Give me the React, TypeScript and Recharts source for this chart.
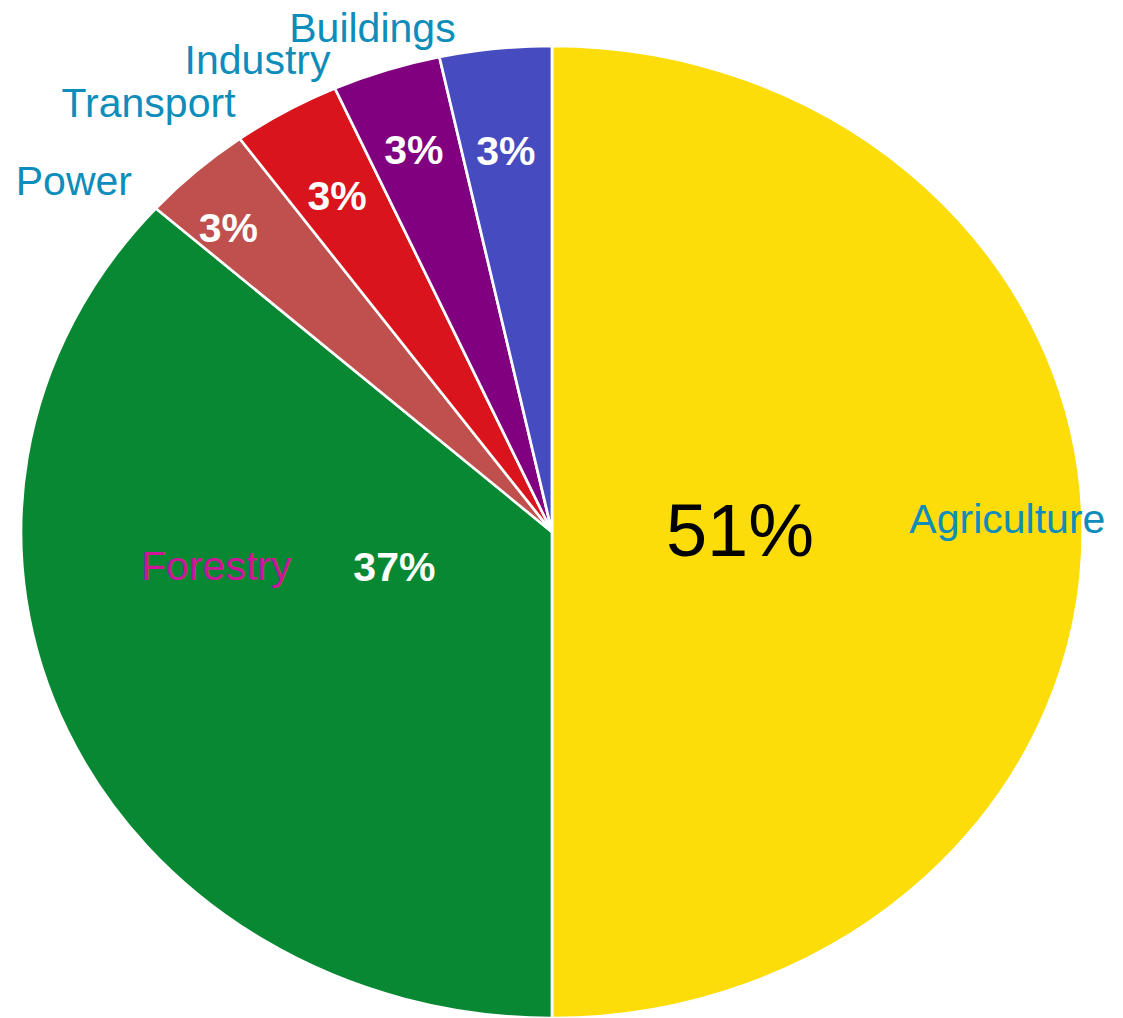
import React from "react";
import { PieChart, Pie, Cell } from "recharts";

// ---- Data ----
const categories = ["Agriculture", "Forestry", "Power", "Transport", "Industry", "Buildings"];
const shares = [50.0, 36.6, 3.4, 3.3, 3.3, 3.4];
const shareLabels = ["51%", "37%", "3%", "3%", "3%", "3%"];

// ---- Styles / layout ----
const sliceColors = ["#FCDD0A", "#088833", "#C0504D", "#DA141C", "#800080", "#474BC0"];
const nameColors = ["#0E8DBA", "#CC1599", "#0E8DBA", "#0E8DBA", "#0E8DBA", "#0E8DBA"];
const valueColors = ["#000000", "#FFFFFF", "#FFFFFF", "#FFFFFF", "#FFFFFF", "#FFFFFF"];
const valueSizes = [74, 41, 41, 41, 41, 41];
const valueWeights = ["normal", "bold", "bold", "bold", "bold", "bold"];
// label placement relative to slice mid-angle (deg shift, radius fraction)
const nameShift = [1.85, -17.9, 9.1, 10.6, 11.5, 11.9];
const nameRadius = [0.858, 0.636, 1.155, 1.166, 1.12, 1.093];
const valueShift = [0.67, -10.8, 2.1, 0.2, 0.1, 0.2];
const valueRadius = [0.354, 0.305, 0.874, 0.803, 0.829, 0.79];

const SX = 1.0926; // horizontal stretch (the pie is an ellipse)
const CHART_W = 1028;
const CHART_H = 1018;
const RAD = Math.PI / 180;
const FONT = "'Liberation Sans', Arial, sans-serif";

const data = categories.map((name, i) => ({ name, value: shares[i] }));

const renderLabel = (props: any) => {
  const { cx, cy, midAngle, outerRadius, index } = props;
  const pos = (shift: number, rf: number) => {
    const a = (midAngle + shift) * RAD;
    return {
      x: cx + outerRadius * rf * Math.cos(-a),
      y: cy + outerRadius * rf * Math.sin(-a),
    };
  };
  const n = pos(nameShift[index], nameRadius[index]);
  const v = pos(valueShift[index], valueRadius[index]);
  return (
    <g key={`lbl-${index}`}>
      <text
        transform={`translate(${n.x} ${n.y}) scale(${1 / SX} 1)`}
        x={0}
        y={0}
        dy="0.358em"
        textAnchor="middle"
        fill={nameColors[index]}
        fontFamily={FONT}
        fontSize={41}
      >
        {categories[index]}
      </text>
      <text
        transform={`translate(${v.x} ${v.y}) scale(${1 / SX} 1)`}
        x={0}
        y={0}
        dy="0.358em"
        textAnchor="middle"
        fill={valueColors[index]}
        fontFamily={FONT}
        fontSize={valueSizes[index]}
        fontWeight={valueWeights[index]}
      >
        {shareLabels[index]}
      </text>
    </g>
  );
};

export default function App() {
  return (
    <div
      style={{
        position: "absolute",
        left: 0,
        top: 0,
        width: 1123,
        height: 1018,
        overflow: "hidden",
        background: "#FFFFFF",
      }}
    >
      <div
        style={{
          width: CHART_W,
          height: CHART_H,
          transform: `scaleX(${SX})`,
          transformOrigin: "0 0",
        }}
      >
        <PieChart width={CHART_W} height={CHART_H} margin={{ top: 0, right: 0, bottom: 0, left: 0 }}>
          <Pie
            data={data}
            dataKey="value"
            nameKey="name"
            cx={505.2}
            cy={532}
            outerRadius={486}
            startAngle={90}
            endAngle={-270}
            stroke="#FFFFFF"
            strokeWidth={2.5}
            label={renderLabel}
            labelLine={false}
            isAnimationActive={false}
          >
            {data.map((d, i) => (
              <Cell key={d.name} fill={sliceColors[i]} />
            ))}
          </Pie>
        </PieChart>
      </div>
    </div>
  );
}
